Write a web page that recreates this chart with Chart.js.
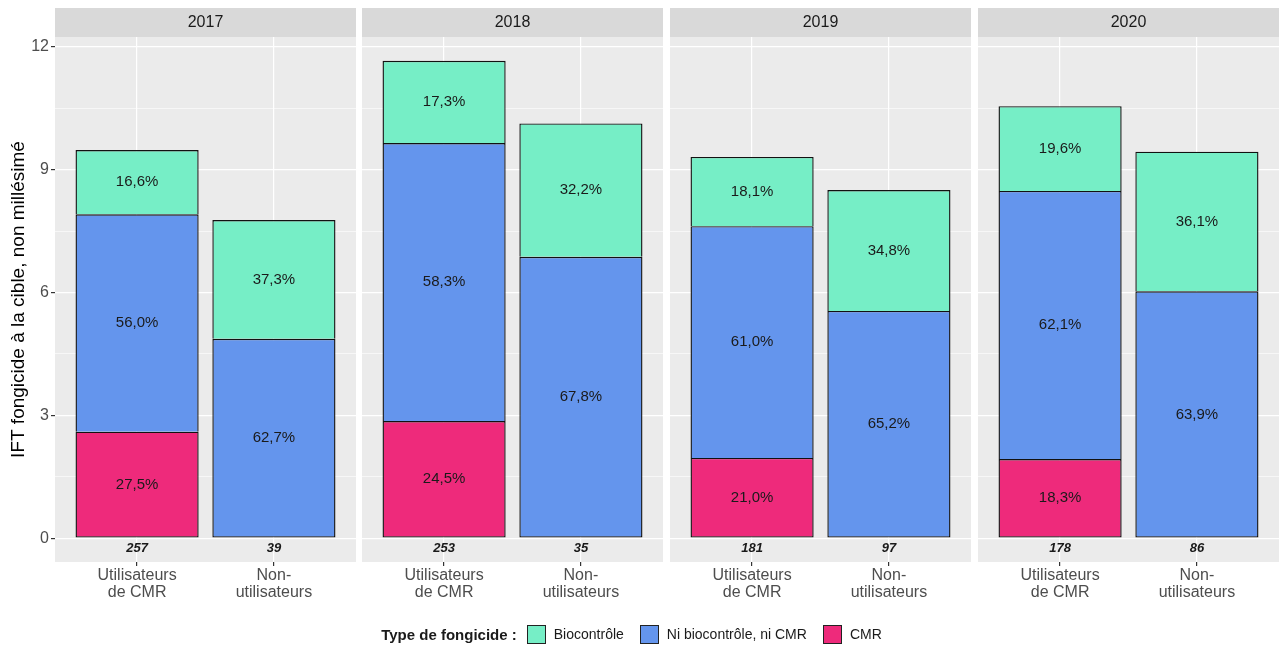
<!DOCTYPE html>
<html>
<head>
<meta charset="utf-8">
<script src="https://cdn.jsdelivr.net/npm/chart.js@4"></script>
<style>
  html, body { margin: 0; padding: 0; background: #fff; overflow: hidden; }
  #wrap { position: relative; width: 1279px; height: 650px; }
  #wrap canvas { position: absolute; top: 0; }
  #legend {
    position: absolute; left: 0; top: 622px; width: 1279px; height: 24px;
    display: flex; justify-content: center; align-items: center;
    font-family: "Liberation Sans", Arial, sans-serif; font-size: 14px; color: #1a1a1a;
  }
  #legend b { margin-right: 10px; font-size: 15px; }
  #legend .box { width: 17px; height: 17px; border: 1px solid #222; margin-right: 8px; }
  #legend .txt { margin-right: 16px; }
</style>
</head>
<body>
<div id="wrap">
  <div id="legend">
    <b>Type de fongicide :</b>
    <span class="box" style="background:#76EEC6"></span><span class="txt">Biocontrôle</span>
    <span class="box" style="background:#6495ED"></span><span class="txt">Ni biocontrôle, ni CMR</span>
    <span class="box" style="background:#EE2A7B"></span><span class="txt">CMR</span>
  </div>
</div>
<script>
// données (IFT par segment, ordre : 2017 U, 2017 N, 2018 U, ...)
const years = ['2017', '2018', '2019', '2020'];
const groups = [['Utilisateurs', 'de CMR'], ['Non-', 'utilisateurs']];
const cmr = [2.60, null, 2.86, null, 1.96, null, 1.93, null];
const niBioNiCmr = [5.31, 4.87, 6.79, 6.87, 5.66, 5.55, 6.55, 6.03];
const bio = [1.57, 2.90, 2.01, 3.26, 1.69, 2.95, 2.07, 3.41];
const pctCmr = ['27,5%', '', '24,5%', '', '21,0%', '', '18,3%', ''];
const pctNi = ['56,0%', '62,7%', '58,3%', '67,8%', '61,0%', '65,2%', '62,1%', '63,9%'];
const pctBio = ['16,6%', '37,3%', '17,3%', '32,2%', '18,1%', '34,8%', '19,6%', '36,1%'];
const counts = [257, 39, 253, 35, 181, 97, 178, 86];
const yTicks = [0, 1.5, 3, 4.5, 6, 7.5, 9, 10.5, 12];

const FONT = '"Liberation Sans", Arial, sans-serif';
Chart.defaults.font.family = FONT;

const panelLeft = [55, 362, 670, 978];
const panelWidth = 301;
const yAxisWidth = 55;

// fond du panneau + bandeau de l'année + étiquettes
const facetPlugin = {
  id: 'facet',
  beforeDraw(chart, args, opts) {
    const { ctx, chartArea } = chart;
    ctx.save();
    ctx.fillStyle = '#EBEBEB';
    ctx.fillRect(chartArea.left, chartArea.top, chartArea.right - chartArea.left, chartArea.bottom - chartArea.top);
    ctx.fillStyle = '#D9D9D9';
    ctx.fillRect(chartArea.left, 8, chartArea.right - chartArea.left, 29);
    ctx.fillStyle = '#1A1A1A';
    ctx.font = '16px ' + FONT;
    ctx.textAlign = 'center';
    ctx.textBaseline = 'middle';
    ctx.fillText(opts.year, (chartArea.left + chartArea.right) / 2, 23);
    ctx.restore();
  },
  afterDatasetsDraw(chart, args, opts) {
    const { ctx } = chart;
    ctx.save();
    ctx.textAlign = 'center';
    ctx.textBaseline = 'middle';
    ctx.fillStyle = '#1A1A1A';
    ctx.font = '15px ' + FONT;
    chart.data.datasets.forEach((ds, d) => {
      chart.getDatasetMeta(d).data.forEach((el, j) => {
        const txt = ds.data[j].label;
        if (txt) ctx.fillText(txt, el.x, (el.y + el.base) / 2);
      });
    });
    const xs = chart.scales.x, ys = chart.scales.y;
    ctx.font = 'italic bold 13px ' + FONT;
    opts.counts.forEach((c, j) => {
      ctx.fillText(String(c), xs.getPixelForValue(j + 1), ys.getPixelForValue(0) + 10);
    });
    ctx.restore();
  }
};

// segment du bas de la pile : bordure complète, sinon pas de bordure basse
const isBottom = c => c.datasetIndex === 0 || (c.datasetIndex === 1 && c.raw && cmr[c.raw.k] === null);

years.forEach((year, i) => {
  const first = i === 0;
  const cv = document.createElement('canvas');
  const w = first ? yAxisWidth + panelWidth : panelWidth;
  cv.width = w;
  cv.height = 650;
  cv.style.left = (first ? 0 : panelLeft[i]) + 'px';
  cv.style.width = w + 'px';
  cv.style.height = '650px';
  document.getElementById('wrap').insertBefore(cv, document.getElementById('legend'));

  const idx = [2 * i, 2 * i + 1];
  const pts = (vals, labels) => idx
    .map((k, j) => ({ x: j + 1, y: vals[k], label: labels[k], k: k }))
    .filter(p => p.y !== null);

  new Chart(cv, {
    type: 'bar',
    data: {
      datasets: [
        { label: 'CMR', data: pts(cmr, pctCmr), backgroundColor: '#EE2A7B' },
        { label: 'Ni biocontrôle, ni CMR', data: pts(niBioNiCmr, pctNi), backgroundColor: '#6495ED' },
        { label: 'Biocontrôle', data: pts(bio, pctBio), backgroundColor: '#76EEC6' }
      ]
    },
    options: {
      responsive: false,
      animation: false,
      devicePixelRatio: 1,
      layout: { padding: { top: 37, left: 0, right: 0, bottom: 0 } },
      datasets: {
        bar: {
          borderColor: '#111111', borderWidth: 1.4,
          borderSkipped: c => (isBottom(c) ? false : 'bottom'),
          barPercentage: 0.9, categoryPercentage: 1
        }
      },
      plugins: {
        legend: { display: false },
        tooltip: { enabled: false },
        facet: { year: year, counts: idx.map(k => counts[k]) }
      },
      scales: {
        x: {
          type: 'linear', min: 0.4, max: 2.6, stacked: true, offset: false,
          afterBuildTicks: s => { s.ticks = [{ value: 1 }, { value: 2 }]; },
          afterFit: s => { s.height = 88; },
          border: { display: false },
          grid: { offset: false, color: '#FFFFFF', lineWidth: 1.2, tickColor: '#333333', tickLength: 4 },
          ticks: {
            color: '#4D4D4D', font: { size: 16, lineHeight: 1.05 }, padding: 1, maxRotation: 0,
            callback: v => groups[v - 1]
          }
        },
        y: {
          min: -0.583, max: 12.24, stacked: true,
          afterBuildTicks: s => { s.ticks = yTicks.map(v => ({ value: v })); },
          afterFit: s => { s.width = first ? yAxisWidth : 0; },
          border: { display: false },
          grid: {
            color: '#FFFFFF',
            lineWidth: c => (c.tick && c.tick.value % 3 === 0 ? 1.2 : 0.6),
            drawTicks: first,
            tickLength: 4,
            tickColor: c => (c.tick && c.tick.value % 3 === 0 ? '#333333' : 'rgba(0,0,0,0)')
          },
          ticks: {
            display: first, color: '#4D4D4D', font: { size: 16 }, padding: 2,
            callback: v => (v % 3 === 0 ? String(v) : '')
          },
          title: {
            display: first, text: 'IFT fongicide à la cible, non millésimé',
            color: '#000000', font: { size: 19 }, padding: { top: 7, bottom: 0 }
          }
        }
      }
    },
    plugins: [facetPlugin]
  });
});
</script>
</body>
</html>
